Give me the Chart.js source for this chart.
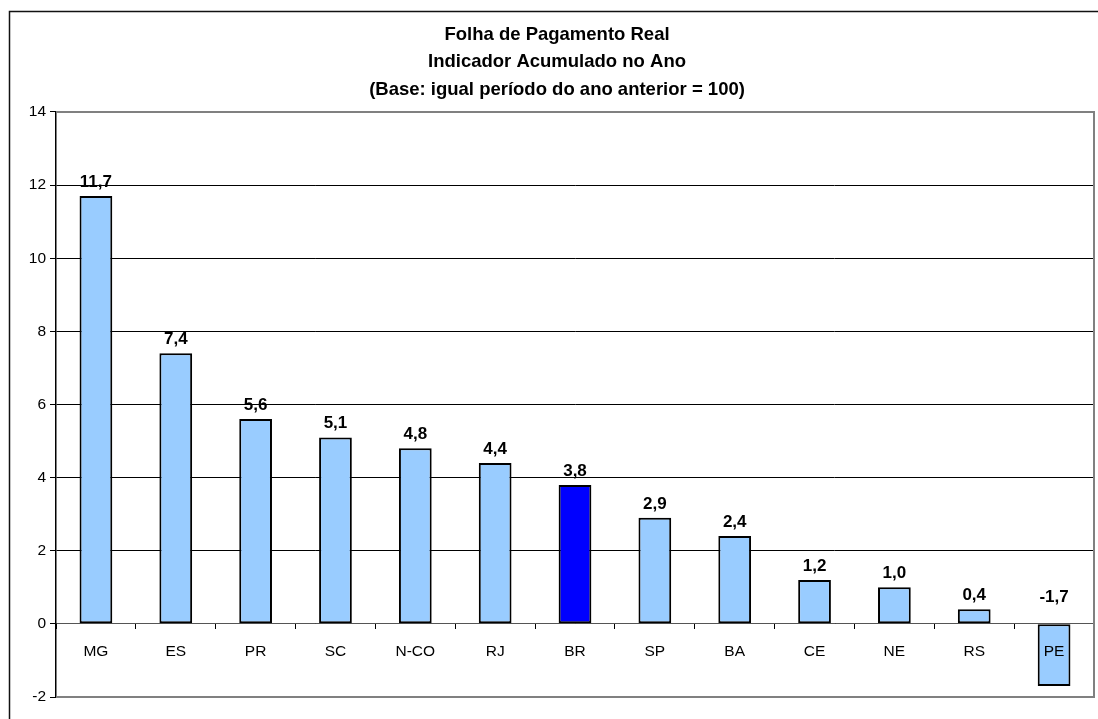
<!DOCTYPE html>
<html>
<head>
<meta charset="utf-8">
<script src="https://cdn.jsdelivr.net/npm/chart.js@4/dist/chart.umd.min.js"></script>
<style>
  html, body { margin: 0; padding: 0; background: #fff; }
  #wrap { width: 1098px; height: 719px; }
</style>
</head>
<body>
<div id="wrap"><canvas id="chart"></canvas></div>
<script>
///////////////////////////////// data /////////////////////////////////
const regions = ['MG', 'ES', 'PR', 'SC', 'N-CO', 'RJ', 'BR', 'SP', 'BA', 'CE', 'NE', 'RS', 'PE'];
const payroll = [11.7, 7.4, 5.6, 5.1, 4.8, 4.4, 3.8, 2.9, 2.4, 1.2, 1.0, 0.4, -1.7];
const yTicks = [-2, 0, 2, 4, 6, 8, 10, 12, 14];
const titleLines = [
  'Folha de Pagamento Real',
  'Indicador Acumulado no Ano',
  '(Base: igual período do ano anterior = 100)'
];
const highlight = 'BR';

const FONT = "'Liberation Sans', Arial, Helvetica, sans-serif";

// bar fill: the national total stands out
function barColor(ctx) {
  return regions[ctx.dataIndex] === highlight ? '#0000FF' : '#99CCFF';
}

// outer frame + plot border
const framePlugin = {
  id: 'frame',
  beforeDraw(chart) {
    const c = chart.ctx;
    c.save();
    c.fillStyle = '#fff';
    c.fillRect(0, 0, chart.width, chart.height);
    c.strokeStyle = '#111';
    c.lineWidth = 1.5;
    c.strokeRect(9.5, 11.5, chart.width + 20, chart.height + 20);
    c.restore();
  },
  beforeDatasetsDraw(chart) {
    const a = chart.chartArea;
    const c = chart.ctx;
    c.save();
    c.strokeStyle = '#808080';
    c.lineWidth = 2;
    c.beginPath();
    c.moveTo(a.left, a.top);
    c.lineTo(a.right, a.top);
    c.lineTo(a.right, a.bottom);
    c.lineTo(a.left, a.bottom);
    c.stroke();
    c.restore();
  }
};

// value labels above each bar (above the zero line for negatives)
const labelPlugin = {
  id: 'valueLabels',
  afterDatasetsDraw(chart) {
    const c = chart.ctx;
    const meta = chart.getDatasetMeta(0);
    c.save();
    c.font = 'bold 17px ' + FONT;
    c.fillStyle = '#000';
    c.textAlign = 'center';
    c.textBaseline = 'alphabetic';
    meta.data.forEach((bar, i) => {
      const txt = payroll[i].toFixed(1).replace('.', ',');
      const neg = payroll[i] < 0;
      const top = Math.min(bar.y, bar.base);
      c.fillText(txt, bar.x, top - (neg ? 22 : 9));
    });
    c.restore();
  }
};

new Chart(document.getElementById('chart'), {
  type: 'bar',
  data: {
    labels: regions,
    datasets: [{
      data: payroll,
      backgroundColor: barColor,
      borderColor: '#000',
      borderWidth: 2,
      borderSkipped: false,
      categoryPercentage: 1,
      barPercentage: 0.41
    }]
  },
  options: {
    responsive: true,
    maintainAspectRatio: false,
    animation: false,
    layout: { padding: { left: 20, right: 4, top: 0, bottom: 22 } },
    plugins: {
      legend: { display: false },
      tooltip: { enabled: false },
      title: {
        display: true,
        text: titleLines,
        color: '#000',
        font: { family: FONT, size: 18.5, weight: 'bold', lineHeight: 1.486 },
        padding: { top: 21, bottom: 8.5 }
      }
    },
    scales: {
      x: {
        position: { y: 0 },
        offset: true,
        grid: {
          display: true,
          offset: true,
          drawOnChartArea: false,
          drawTicks: true,
          tickLength: 5,
          color: '#000'
        },
        border: { display: true, color: '#555', width: 1 },
        ticks: {
          z: 1, // labels on top of bars (PE sits inside its bar)
          color: '#000',
          padding: 14,
          font: { family: FONT, size: 15.5 }
        }
      },
      y: {
        min: -2,
        max: 14,
        afterBuildTicks(scale) {
          scale.ticks = yTicks.map(v => ({ value: v }));
        },
        afterFit(scale) {
          scale.width = 36;
        },
        grid: {
          color: '#000',
          lineWidth: 1,
          tickLength: 6,
          tickColor: '#000'
        },
        border: { display: true, color: '#000', width: 1.5 },
        ticks: {
          color: '#000',
          padding: 4,
          font: { family: FONT, size: 15.5 }
        }
      }
    }
  },
  plugins: [framePlugin, labelPlugin]
});
</script>
</body>
</html>
